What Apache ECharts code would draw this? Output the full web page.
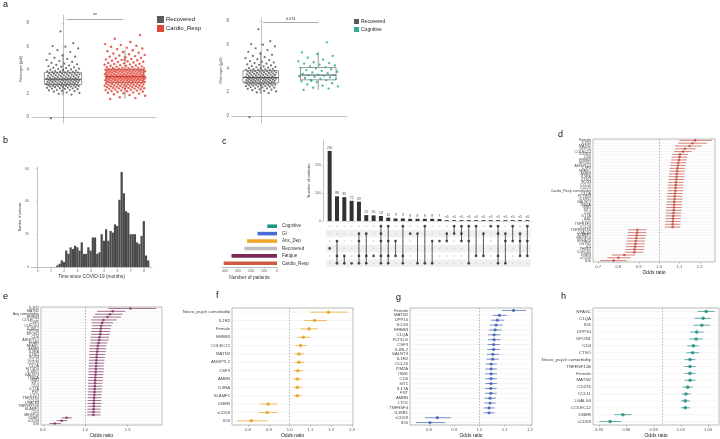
<!DOCTYPE html>
<html><head><meta charset="utf-8">
<script src="https://cdn.jsdelivr.net/npm/echarts@6/dist/echarts.min.js"></script>
<style>html,body{margin:0;padding:0;background:#fff}#c{width:720px;height:439px}</style>
</head><body><div id="c"></div>
<script>
// ---------- Panel a: fibrinogen ----------
const boxCatsA = ['Recovered', 'Cardio_Resp'];
const boxCatsB = ['Recovered', 'Cognitive'];
// [min whisker, Q1, median, Q3, max whisker]
const boxRecovered = [1.86, 2.78, 3.23, 3.81, 5.42];
const boxCardio = [1.57, 2.95, 3.46, 4.07, 5.72];
const boxCognitive = [2.2, 3.04, 3.44, 4.08, 5.38];
const fibRecovered = [-0.1,1.92,1.98,2.06,2.1,2.17,2.21,2.24,2.28,2.31,2.33,2.38,2.4,2.43,2.46,2.47,2.5,2.52,2.55,2.56,2.58,2.6,2.61,2.63,2.64,2.66,2.67,2.69,2.7,2.72,2.73,2.74,2.75,2.77,2.78,
2.8,2.81,2.83,2.84,2.86,2.87,2.89,2.9,2.92,2.93,2.95,2.96,2.98,2.99,3.01,3.02,3.03,3.05,3.06,3.08,3.09,3.1,3.12,3.13,3.14,3.16,3.17,3.18,3.19,3.2,3.21,3.22,3.23,3.24,3.25,
3.27,3.29,3.3,3.32,3.34,3.36,3.37,3.39,3.41,3.43,3.44,3.46,3.48,3.5,3.51,3.53,3.55,3.57,3.58,3.6,3.62,3.63,3.65,3.67,3.69,3.7,3.72,3.74,3.76,3.78,3.8,3.81,3.83,3.85,3.87,
3.89,3.92,3.94,3.97,4.0,4.03,4.06,4.1,4.13,4.17,4.2,4.25,4.3,4.34,4.4,4.45,4.5,4.56,4.62,4.7,4.78,4.86,4.95,5.05,5.15,5.25,5.4,5.55,5.7,5.85,6.0,6.05,6.3,7.3];
const fibCardio = [1.55,1.62,1.7,1.82,1.88,1.95,2.0,2.04,2.08,2.11,2.14,2.18,2.2,2.23,2.26,2.28,2.31,2.33,2.35,2.37,2.4,2.41,2.43,2.45,2.47,2.49,2.5,2.52,2.53,2.55,2.57,2.58,2.6,2.61,2.63,2.64,2.66,2.67,2.69,2.7,2.72,2.73,2.75,2.76,2.78,2.79,2.8,2.82,2.83,2.85,2.86,2.88,2.9,2.92,2.94,
2.95,2.96,2.97,2.99,3.0,3.01,3.02,3.04,3.05,3.06,3.07,3.08,3.1,3.11,3.12,3.13,3.14,3.15,3.16,3.17,3.18,3.19,3.2,3.21,3.22,3.23,3.24,3.25,3.26,3.27,3.28,3.29,3.3,3.31,3.32,3.33,3.34,3.35,3.36,3.37,3.38,3.39,3.4,3.4,3.41,3.42,3.42,3.43,3.43,3.44,3.44,3.45,3.45,3.46,3.46,
3.47,3.48,3.49,3.5,3.51,3.52,3.53,3.55,3.56,3.57,3.58,3.6,3.61,3.62,3.63,3.64,3.66,3.67,3.68,3.69,3.7,3.72,3.73,3.74,3.75,3.76,3.78,3.79,3.8,3.81,3.82,3.84,3.85,3.86,3.87,3.88,3.9,3.91,3.92,3.93,3.94,3.95,3.96,3.97,3.98,3.99,4.0,4.01,4.02,4.03,4.04,4.05,4.06,4.06,4.07,
4.08,4.1,4.12,4.14,4.16,4.18,4.2,4.22,4.25,4.27,4.3,4.32,4.35,4.38,4.4,4.43,4.46,4.49,4.52,4.55,4.58,4.62,4.65,4.69,4.72,4.76,4.8,4.84,4.88,4.92,4.96,5.0,5.05,5.1,5.14,5.2,5.25,5.3,5.36,5.42,5.48,5.55,5.62,5.7,5.78,5.85,5.92,6.0,6.08,6.15,6.22,6.4,6.68,7.0,4.9];
const fibCognitive = [2.2,2.3,2.38,2.48,2.55,2.65,2.75,2.84,2.92,3.0,3.04,3.1,3.14,3.2,3.24,3.3,3.35,3.38,3.42,3.44,3.48,3.53,3.6,3.66,3.72,3.8,3.86,3.93,4.0,4.05,4.1,4.18,4.25,4.32,4.4,4.45,4.52,4.6,4.75,4.9,5.05,5.2,5.35,6.2,2.95];

// ---------- Panel b: histogram ----------
const histBinStart = 1.4;
const histBinWidth = 1 / 6;
const histCounts = [1,2,4,3,10,8,12,11,13,12,10,15,8,8,12,10,18,18,8,9,20,16,23,16,22,21,26,25,41,58,45,34,33,20,20,20,15,14,19,28,7,4];

// ---------- Panel c: upset ----------
const upsetRows = ['Cardio_Resp', 'Fatigue', 'Recovered', 'Anx_Dep', 'GI', 'Cognitive'];
const setSizes = [410, 350, 250, 230, 150, 75];
const intersectionCounts = [250,88,85,72,69,21,20,18,12,9,9,8,8,8,8,7,3,3,3,3,3,3,3,3,3,3,3,3];
const intersectionLabels = ['250','88','85','72','69','21','20','18','12','9','9','8','8','8','8','7','<5','<5','<5','<5','<5','<5','<5','<5','<5','<5','<5','<5'];
const intersectionSets = [
  ['Recovered'], ['Anx_Dep','Fatigue','Cardio_Resp'], ['Fatigue','Cardio_Resp'], ['Cardio_Resp'],
  ['GI','Anx_Dep','Fatigue','Cardio_Resp'], ['GI','Fatigue','Cardio_Resp'], ['Fatigue'],
  ['Cognitive','GI','Anx_Dep','Fatigue','Cardio_Resp'], ['Cognitive','Anx_Dep','Fatigue','Cardio_Resp'],
  ['Anx_Dep','Fatigue'], ['Cognitive','Fatigue','Cardio_Resp'], ['GI'], ['GI','Cardio_Resp'],
  ['Cognitive','Cardio_Resp'], ['Anx_Dep','Cardio_Resp'], ['Anx_Dep'], ['GI','Anx_Dep'], ['Cognitive','GI'],
  ['Cognitive','GI','Anx_Dep'], ['Cognitive','Anx_Dep','Cardio_Resp'], ['Cognitive','Fatigue'], ['GI','Fatigue'],
  ['Cognitive'], ['Cognitive','GI','Fatigue','Cardio_Resp'], ['GI','Anx_Dep','Cardio_Resp'], ['Cognitive','Anx_Dep'],
  ['GI','Anx_Dep','Fatigue'], ['Cognitive','Anx_Dep','Fatigue']
];

// ---------- Panel d ----------
const dLabels = ["Female","IL1R2","MATN2","DPP10","COLEC12","IL1RL2","CD6","ERBB3","SPON1","ANGPTL2","CSF3","NFASC","AMBN","IL3RA","CTSO","SCG3","CCL11","CD276","Cardio_Resp comorbidity","C1QA","FLT3LG","IL18R1","GALNT3","ITM2A","ISM1","SIT1","CD4","IL17A","FST","LTO1","TNFRSF4","CCL20","TNFRSF11B","LGALS4","SLAMF1","MEGF10","EPHA10","CNTN5","IL5","THBS2","CLEC4D","DNER","sCD59","IDS"];
const dOR = [1.177,1.164,1.150,1.128,1.117,1.103,1.100,1.098,1.095,1.093,1.090,1.089,1.087,1.086,1.085,1.083,1.082,1.081,1.080,1.078,1.077,1.076,1.075,1.074,1.073,1.072,1.071,1.070,1.069,1.068,1.067,1.066,0.893,0.892,0.890,0.888,0.886,0.884,0.882,0.880,0.878,0.829,0.800,0.776];
const dLo = [1.10,1.095,1.079,1.079,1.075,1.065,1.062,1.06,1.057,1.055,1.052,1.051,1.049,1.048,1.047,1.045,1.044,1.043,1.042,1.04,1.039,1.038,1.037,1.036,1.035,1.034,1.033,1.032,1.031,1.03,1.029,1.028,0.848,0.847,0.845,0.843,0.841,0.839,0.837,0.835,0.833,0.767,0.745,0.71];
const dHi = [1.26,1.235,1.21,1.18,1.16,1.142,1.138,1.136,1.133,1.131,1.128,1.127,1.125,1.124,1.123,1.121,1.12,1.119,1.118,1.116,1.115,1.114,1.113,1.112,1.111,1.11,1.109,1.108,1.107,1.106,1.105,1.104,0.938,0.937,0.935,0.933,0.931,0.929,0.927,0.925,0.923,0.882,0.86,0.84];

// ---------- Panel e ----------
const eLabels = ["IL1R2","MATN2","Any comorbidity","ERBB3","COLEC12","CSF3","CLEC4G","IL1RL2","DPP10","SPON1","CD6","ANGPTL2","ENAH","NFASC","AMBN","IL3RA","CTSO","SCG3","CCL11","CD276","C1QA","FLT3LG","IL18R1","GALNT3","ITM2A","ISM1","SIT1","CD4","IL17A","FST","LTO1","TNFRSF4","CCL20","LGALS4","TNFRSF11B","SLAMF1","CD5","MEGF10","DNER","sCD59","IDS"];
const eOR = [1.532,1.322,1.29,1.262,1.214,1.198,1.187,1.183,1.178,1.175,1.167,1.163,1.155,1.147,1.143,1.14,1.135,1.132,1.13,1.128,1.126,1.124,1.122,1.12,1.118,1.116,1.114,1.112,1.11,1.108,1.106,1.104,1.102,1.1,1.099,1.098,1.096,1.095,0.778,0.719,0.639];
const eLo = [1.274,1.14,1.115,1.09,1.07,1.075,1.08,1.075,1.07,1.068,1.062,1.06,1.058,1.05,1.048,1.047,1.045,1.044,1.042,1.04,1.039,1.038,1.036,1.035,1.034,1.033,1.032,1.031,1.03,1.029,1.028,1.027,1.026,1.025,1.025,1.024,1.023,1.022,0.72,0.66,0.575];
const eHi = [1.838,1.47,1.44,1.42,1.37,1.33,1.31,1.30,1.29,1.29,1.28,1.275,1.26,1.25,1.245,1.24,1.235,1.23,1.225,1.222,1.22,1.218,1.214,1.212,1.208,1.205,1.202,1.2,1.197,1.194,1.192,1.19,1.188,1.185,1.183,1.181,1.179,1.177,0.84,0.785,0.71];

// ---------- Panel f ----------
const fLabels = ["Neuro_psych comorbidity","IL1R2","Female","ERBB3","COLEC12","MATN2","ANGPTL2","CSF3","AMBN","IL3RA","SLAMF1","DNER","sCD59","IDS"];
const fOR = [1.187,1.12,1.093,1.066,1.053,1.045,1.045,1.04,1.037,1.037,1.037,0.897,0.892,0.816];
const fLo = [1.10,1.07,1.053,1.034,1.029,1.024,1.024,1.02,1.018,1.018,1.018,0.857,0.852,0.75];
const fHi = [1.28,1.18,1.137,1.098,1.082,1.072,1.072,1.064,1.06,1.06,1.06,0.94,0.94,0.895];

// ---------- Panel g ----------
const gLabels = ["Female","MATN2","DPP10","SCG3","ERBB3","C1QA","FLT3LG","CSF3","IL1RL2","GALNT3","IL1R2","CCL20","ITM2A","ISM1","CD6","SIT1","IL17A","FST","AMBN","LTO1","TNFRSF4","IL18R1","sCD59","IDS"];
const gOR = [1.135,1.079,1.071,1.066,1.062,1.058,1.058,1.056,1.056,1.053,1.052,1.046,1.046,1.046,1.046,1.046,1.045,1.045,1.042,1.042,1.038,1.038,0.833,0.804];
const gLo = [1.089,1.053,1.046,1.04,1.037,1.034,1.034,1.032,1.031,1.029,1.028,1.024,1.024,1.023,1.023,1.023,1.022,1.022,1.02,1.02,1.017,1.017,0.785,0.749];
const gHi = [1.184,1.109,1.098,1.093,1.088,1.083,1.083,1.081,1.081,1.078,1.077,1.069,1.069,1.069,1.069,1.069,1.068,1.068,1.065,1.065,1.06,1.06,0.887,0.864];

// ---------- Panel h ----------
const hLabels = ["NFASC","C1QA","IDS","DPP10","SPON1","CD4","CTSO","Neuro_psych comorbidity","TNFRSF11B","Female","MATN2","CD276","CCL11","LGALS4","COLEC12","DNER","sCD59"];
const hOR = [1.0478,1.0444,1.043,1.0374,1.0367,1.0337,1.033,1.030,1.030,1.030,1.030,1.0274,1.0256,1.0248,1.0248,0.9563,0.9422];
const hLo = [1.0386,1.035,1.034,1.030,1.029,1.027,1.026,1.024,1.024,1.024,1.024,1.022,1.021,1.020,1.020,0.9467,0.9303];
const hHi = [1.057,1.053,1.052,1.045,1.044,1.040,1.040,1.036,1.036,1.036,1.036,1.033,1.031,1.030,1.030,0.9656,0.9544];

// ================= styles =================
const FONT = 'Liberation Sans, Arial, Helvetica, sans-serif';
const COL = {recovered:'#5a5a5a', cardio:'#e0473a', cognitive:'#35ab93'};
const SETCOL = {Cardio_Resp:'#cd5a43', Fatigue:'#7b2a57', Recovered:'#bdbdbd', Anx_Dep:'#f2a62a', GI:'#4a6bd6', Cognitive:'#1f9486'};

const grids = [], xAxes = [], yAxes = [], series = [];

function jitter(vals, idx, spread) {
  return vals.map((v, i) => [idx + ((((i * 0.6180339887) + 0.137) % 1) - 0.5) * 2 * spread, v]);
}
function boxSeries(xi, yi, stats, frac) {
  return {
    type: 'custom', xAxisIndex: xi, yAxisIndex: yi, z: 2,
    data: stats.map((s, i) => [i].concat(s)),
    encode: {x: 0, y: [1, 5]},
    renderItem: (params, api) => {
      const c = api.value(0);
      const pMin = api.coord([c, api.value(1)]), pQ1 = api.coord([c, api.value(2)]),
            pMed = api.coord([c, api.value(3)]), pQ3 = api.coord([c, api.value(4)]),
            pMax = api.coord([c, api.value(5)]);
      const hw = api.size([1, 0])[0] * frac;
      const st = {stroke: '#555', lineWidth: 0.6, fill: null};
      return {type: 'group', children: [
        {type: 'line', shape: {x1: pMin[0], y1: pMin[1], x2: pQ1[0], y2: pQ1[1]}, style: st},
        {type: 'line', shape: {x1: pQ3[0], y1: pQ3[1], x2: pMax[0], y2: pMax[1]}, style: st},
        {type: 'rect', shape: {x: pQ1[0] - hw, y: pQ3[1], width: hw * 2, height: pQ1[1] - pQ3[1]}, style: {stroke: '#555', lineWidth: 0.6, fill: '#fff'}},
        {type: 'line', shape: {x1: pMed[0] - hw, y1: pMed[1], x2: pMed[0] + hw, y2: pMed[1]}, style: {stroke: '#333', lineWidth: 0.9}}
      ]};
    }
  };
}
function boxPanel(gridIdx, rect, cats, ymin, ymax) {
  grids.push(rect);
  const xi = xAxes.length;
  xAxes.push({gridIndex: gridIdx, type: 'category', data: cats,
    axisLine: {show: true, lineStyle: {color: '#999', width: 0.6}}, axisTick: {show: false}, axisLabel: {show: false}});
  xAxes.push({gridIndex: gridIdx, type: 'value', min: -0.5, max: 1.5, show: false});
  const yi = yAxes.length;
  yAxes.push({gridIndex: gridIdx, type: 'value', min: ymin, max: ymax, splitNumber: 5,
    axisLine: {show: true, lineStyle: {color: '#999', width: 0.6}},
    axisTick: {show: true, length: 1.5, lineStyle: {color: '#999', width: 0.5}},
    axisLabel: {fontSize: 4.5, color: '#666', margin: 3, showMinLabel: false, showMaxLabel: false},
    splitLine: {show: false},
    name: 'Fibrinogen (g/dl)', nameLocation: 'middle', nameGap: 8, nameRotate: 90,
    nameTextStyle: {fontSize: 3.6, color: '#333'}});
  return {xi, yi};
}

// ---- a left ----
const aL = boxPanel(0, {left: 32, top: 15, width: 124, height: 108}, boxCatsA, -0.5, 8.7);
series.push(boxSeries(aL.xi, aL.yi, [boxRecovered, boxCardio], 0.3));
series.push({type: 'scatter', name: 'Recovered', xAxisIndex: aL.xi + 1, yAxisIndex: aL.yi, z: 3,
  symbolSize: 2.2, itemStyle: {color: COL.recovered, opacity: 0.85}, data: jitter(fibRecovered, 0, 0.27),
  markLine: {silent: true, symbol: ['none', 'none'], lineStyle: {color: '#555', width: 0.5, type: 'solid'},
    label: {show: true, position: 'middle', formatter: '**', fontSize: 5, color: '#333', distance: 1},
    data: [[{coord: [0.06, 8.37]}, {coord: [0.97, 8.37]}]]}});
series.push({type: 'scatter', name: 'Cardio_Resp', xAxisIndex: aL.xi + 1, yAxisIndex: aL.yi, z: 3,
  symbolSize: 2.4, itemStyle: {color: COL.cardio, opacity: 0.85}, data: jitter(fibCardio, 1, 0.33)});

// ---- a right ----
const aR = boxPanel(1, {left: 232, top: 18, width: 115, height: 105}, boxCatsB, -0.6, 8.25);
series.push(boxSeries(aR.xi, aR.yi, [boxRecovered, boxCognitive], 0.31));
series.push({type: 'scatter', name: 'Recovered', xAxisIndex: aR.xi + 1, yAxisIndex: aR.yi, z: 3,
  symbolSize: 2.2, itemStyle: {color: COL.recovered, opacity: 0.85}, data: jitter(fibRecovered, 0, 0.27),
  markLine: {silent: true, symbol: ['none', 'none'], lineStyle: {color: '#555', width: 0.5, type: 'solid'},
    label: {show: true, position: 'middle', formatter: '0.074', fontSize: 3.8, color: '#333', distance: 1},
    data: [[{coord: [0.04, 7.92]}, {coord: [1.0, 7.92]}]]}});
series.push({type: 'scatter', name: 'Cognitive', xAxisIndex: aR.xi + 1, yAxisIndex: aR.yi, z: 3,
  symbolSize: 2.3, itemStyle: {color: COL.cognitive, opacity: 0.9}, data: jitter(fibCognitive, 1, 0.35)});

// ---- b histogram ----
grids.push({left: 31, top: 167, width: 121, height: 100});
const bX = xAxes.length;
xAxes.push({gridIndex: 2, type: 'value', min: -0.5, max: 8.6, splitNumber: 9,
  axisLine: {show: true, onZero: false, lineStyle: {color: '#999', width: 0.6}},
  axisTick: {show: true, length: 1.5, lineStyle: {color: '#999', width: 0.5}},
  axisLabel: {fontSize: 3.6, color: '#666', margin: 2, showMinLabel: false, showMaxLabel: false},
  splitLine: {show: false},
  name: 'Time since COVID-19 (months)', nameLocation: 'middle', nameGap: 7, nameTextStyle: {fontSize: 4.8, color: '#333'}});
const bY = yAxes.length;
yAxes.push({gridIndex: 2, type: 'value', min: 0, max: 61, interval: 20,
  axisLine: {show: true, lineStyle: {color: '#999', width: 0.6}},
  axisTick: {show: true, length: 1.5, lineStyle: {color: '#999', width: 0.5}},
  axisLabel: {fontSize: 3.6, color: '#666', margin: 2, showMaxLabel: false},
  splitLine: {show: false},
  name: 'Number of patients', nameLocation: 'middle', nameGap: 8, nameTextStyle: {fontSize: 3.4, color: '#333'}});
series.push({type: 'custom', xAxisIndex: bX, yAxisIndex: bY,
  data: histCounts.map((n, j) => [histBinStart + j * histBinWidth, histBinStart + (j + 1) * histBinWidth, n]),
  encode: {x: [0, 1], y: 2},
  renderItem: (params, api) => {
    const p0 = api.coord([api.value(0), 0]);
    const p1 = api.coord([api.value(1), api.value(2)]);
    return {type: 'rect', shape: {x: p0[0], y: p1[1], width: p1[0] - p0[0], height: p0[1] - p1[1]}, style: {fill: '#4a4a4a'}};
  }});

// ---- c upset ----
const nCols = intersectionCounts.length;
const colIdx = intersectionCounts.map((_, i) => String(i));
grids.push({left: 326, top: 140, width: 205, height: 81});           // 3 bars
grids.push({left: 326, top: 222.5, width: 205, height: 44.5});       // 4 matrix
grids.push({left: 222, top: 222.5, width: 55, height: 44.5});        // 5 set sizes
const cBarX = xAxes.length;
xAxes.push({gridIndex: 3, type: 'category', data: colIdx, axisLine: {show: true, lineStyle: {color: '#bbb', width: 0.5}}, axisTick: {show: false}, axisLabel: {show: false}});
const cBarY = yAxes.length;
yAxes.push({gridIndex: 3, type: 'value', min: 0, max: 289, interval: 100, offset: 3,
  axisLine: {show: true, lineStyle: {color: '#999', width: 0.6}},
  axisTick: {show: true, length: 1.5, lineStyle: {color: '#999', width: 0.5}},
  axisLabel: {fontSize: 3.6, color: '#666', margin: 2, showMaxLabel: false},
  splitLine: {show: false},
  name: 'Number of patients', nameLocation: 'middle', nameGap: 10, nameTextStyle: {fontSize: 4, color: '#333'}});
series.push({type: 'bar', xAxisIndex: cBarX, yAxisIndex: cBarY, data: intersectionCounts, barWidth: 4,
  itemStyle: {color: '#333'},
  label: {show: true, position: 'top', distance: 1.5, fontSize: 3.3, color: '#444',
    formatter: p => intersectionLabels[p.dataIndex]}});

const cMatX = xAxes.length;
xAxes.push({gridIndex: 4, type: 'category', data: colIdx, show: false});
const cMatY = yAxes.length;
yAxes.push({gridIndex: 4, type: 'category', data: upsetRows,
  axisLine: {show: false}, axisTick: {show: false},
  axisLabel: {fontSize: 4.6, color: '#333', align: 'left', margin: 44, interval: 0},
  splitLine: {show: false},
  splitArea: {show: true, interval: 0, areaStyle: {color: ['rgba(0,0,0,0.06)', 'rgba(255,255,255,0)']}}});
const inactive = [], active = [], spans = [];
intersectionSets.forEach((mem, c) => {
  const idx = mem.map(m => upsetRows.indexOf(m));
  upsetRows.forEach((r, ri) => { (idx.includes(ri) ? active : inactive).push([c, ri]); });
  spans.push([c, Math.min(...idx), Math.max(...idx)]);
});
series.push({type: 'scatter', xAxisIndex: cMatX, yAxisIndex: cMatY, data: inactive, symbolSize: 2, itemStyle: {color: '#d6d6d6'}, z: 2});
series.push({type: 'custom', xAxisIndex: cMatX, yAxisIndex: cMatY, data: spans, encode: {x: 0, y: [1, 2]}, z: 3,
  renderItem: (params, api) => {
    const a = api.coord([api.value(0), api.value(1)]);
    const b = api.coord([api.value(0), api.value(2)]);
    return {type: 'line', shape: {x1: a[0], y1: a[1], x2: b[0], y2: b[1]}, style: {stroke: '#333', lineWidth: 0.8}};
  }});
series.push({type: 'scatter', xAxisIndex: cMatX, yAxisIndex: cMatY, data: active, symbolSize: 2.7, itemStyle: {color: '#222'}, z: 4});

const cSetX = xAxes.length;
xAxes.push({gridIndex: 5, type: 'value', inverse: true, min: 0, max: 423, interval: 100,
  axisLine: {show: true, lineStyle: {color: '#999', width: 0.6}},
  axisTick: {show: true, length: 1.5, lineStyle: {color: '#999', width: 0.5}},
  axisLabel: {fontSize: 3.6, color: '#666', margin: 2, showMaxLabel: false},
  splitLine: {show: false},
  name: 'Number of patients', nameLocation: 'middle', nameGap: 8, nameTextStyle: {fontSize: 4.8, color: '#333'}});
const cSetY = yAxes.length;
yAxes.push({gridIndex: 5, type: 'category', data: upsetRows, show: false});
series.push({type: 'bar', xAxisIndex: cSetX, yAxisIndex: cSetY, barWidth: 3.6,
  data: setSizes.map((v, i) => ({value: v, itemStyle: {color: SETCOL[upsetRows[i]]}}))});

// ---- forest plots ----
function forest(rect, labels, or, lo, hi, color, pt, fs, xmin, xmax, split, dec) {
  const gi = grids.length;
  grids.push(Object.assign({show: true, borderColor: '#8a8a8a', borderWidth: 0.6}, rect));
  const xi = xAxes.length, yi = yAxes.length;
  xAxes.push({gridIndex: gi, type: 'value', min: xmin, max: xmax, splitNumber: split,
    axisLine: {show: false},
    axisTick: {show: true, length: 1.5, lineStyle: {color: '#777', width: 0.5}},
    axisLabel: {fontSize: 4.2, color: '#555', margin: 2.5, showMinLabel: false, showMaxLabel: false,
      formatter: v => v.toFixed(dec)},
    splitLine: {show: false},
    name: 'Odds ratio', nameLocation: 'middle', nameGap: 8, nameTextStyle: {fontSize: 5, color: '#222'}});
  yAxes.push({gridIndex: gi, type: 'category', inverse: true, data: labels,
    axisLine: {show: false}, axisTick: {show: false},
    axisLabel: {fontSize: fs, color: '#444', margin: 2, interval: 0},
    splitLine: {show: false}});
  series.push({type: 'custom', xAxisIndex: xi, yAxisIndex: yi, z: 2,
    data: labels.map((l, i) => [lo[i], hi[i], i]), encode: {x: [0, 1], y: 2},
    renderItem: (params, api) => {
      const i = api.value(2);
      const a = api.coord([api.value(0), i]);
      const b = api.coord([api.value(1), i]);
      const cs = params.coordSys;
      return {type: 'group', children: [
        {type: 'line', shape: {x1: cs.x, y1: a[1], x2: cs.x + cs.width, y2: a[1]}, style: {stroke: '#ebebeb', lineWidth: 0.5}},
        {type: 'line', shape: {x1: a[0], y1: a[1], x2: b[0], y2: b[1]}, style: {stroke: color, lineWidth: 0.9, opacity: 0.75}}
      ]};
    }});
  series.push({type: 'scatter', xAxisIndex: xi, yAxisIndex: yi, z: 3, symbolSize: pt,
    itemStyle: {color: color}, data: or.map((v, i) => [v, i]),
    markLine: {silent: true, symbol: ['none', 'none'], label: {show: false},
      lineStyle: {color: '#888', width: 0.6, type: [1.5, 1.5]}, data: [{xAxis: 1}]}});
}
forest({left: 593, top: 139, width: 122, height: 123}, dLabels, dOR, dLo, dHi, '#c0483a', 2.6, 3.6, 0.675, 1.275, 6, 1);
forest({left: 41, top: 307, width: 121, height: 121}, eLabels, eOR, eLo, eHi, '#7a2a58', 2.6, 3.7, 0.476, 1.905, 3, 1);
forest({left: 232, top: 308, width: 121, height: 119}, fLabels, fOR, fLo, fHi, '#e8a01c', 3.6, 4.2, 0.723, 1.305, 6, 1);
forest({left: 410, top: 308, width: 122, height: 120}, gLabels, gOR, gLo, gHi, '#3b5bb5', 3.2, 4.2, 0.725, 1.208, 5, 1);
forest({left: 593, top: 308, width: 126, height: 120}, hLabels, hOR, hLo, hHi, '#1d8a80', 3.6, 4.4, 0.9233, 1.0619, 5, 2);

const panelLetters = [['a', 3, 0], ['b', 3, 136], ['c', 222, 137], ['d', 558, 130], ['e', 3, 292], ['f', 216, 291], ['g', 396, 293], ['h', 561, 292]];

const chart = echarts.init(document.getElementById('c'));
chart.setOption({
  animation: false,
  backgroundColor: '#fff',
  textStyle: {fontFamily: FONT},
  grid: grids,
  xAxis: xAxes,
  yAxis: yAxes,
  legend: [
    {data: [{name: 'Recovered', itemStyle: {color: COL.recovered, opacity: 1}}, {name: 'Cardio_Resp', itemStyle: {color: COL.cardio, opacity: 1}}],
     left: 157, top: 16, orient: 'vertical', icon: 'rect', itemWidth: 7, itemHeight: 7, itemGap: 2, padding: 0,
     textStyle: {fontSize: 6, color: '#222', padding: [0, 0, 0, -3]}},
    {data: [{name: 'Recovered', itemStyle: {color: COL.recovered, opacity: 1}}, {name: 'Cognitive', itemStyle: {color: COL.cognitive, opacity: 1}}],
     left: 354, top: 19, orient: 'vertical', icon: 'rect', itemWidth: 5, itemHeight: 5, itemGap: 3, padding: 0,
     textStyle: {fontSize: 5, color: '#222', padding: [0, 0, 0, -3]}}
  ],
  graphic: panelLetters.map(p => ({type: 'text', left: p[1], top: p[2], style: {text: p[0], fontSize: 9, fill: '#111', fontFamily: FONT}})),
  series: series
});
</script></body></html>
